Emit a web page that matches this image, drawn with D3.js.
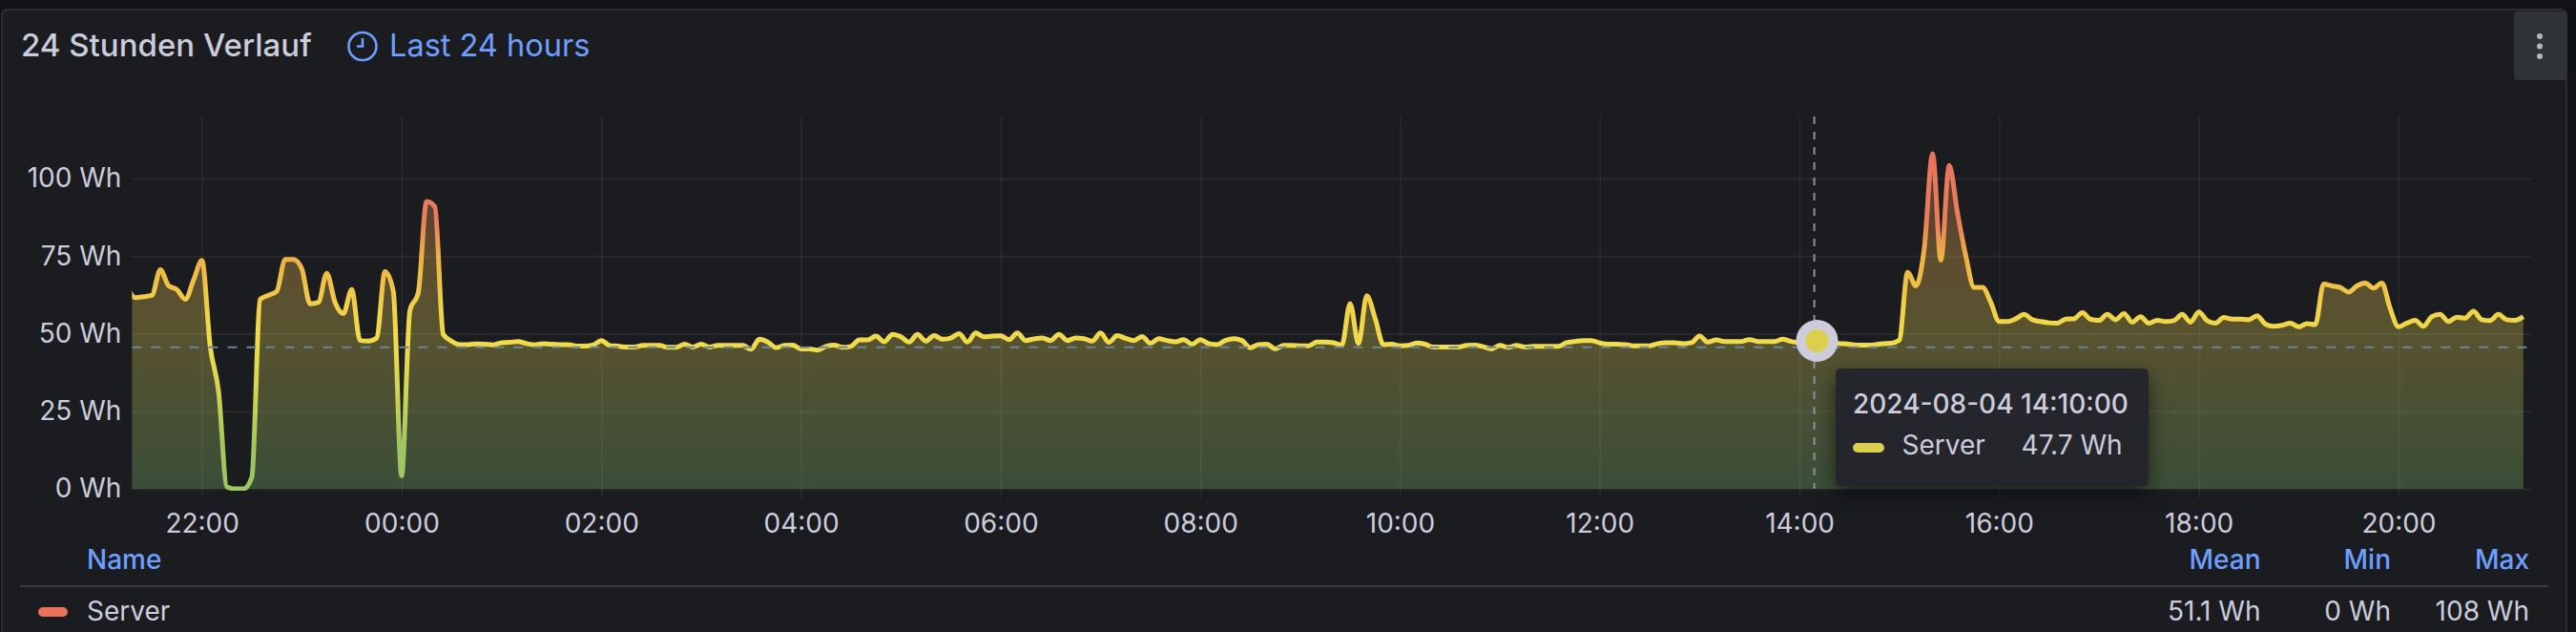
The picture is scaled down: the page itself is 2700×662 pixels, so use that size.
<!DOCTYPE html>
<html><head><meta charset="utf-8">
<script src="https://cdn.jsdelivr.net/npm/d3@7/dist/d3.min.js"></script>
<style>
html,body{margin:0;padding:0;background:#111217;overflow:hidden}
svg{display:block}
text{font-family:Inter,"Noto Sans",sans-serif}
</style></head><body>
<svg id="c" width="2700" height="662"></svg>
<script>
const title = "24 Stunden Verlauf";
const timeRangeLabel = "Last 24 hours";
const seriesName = "Server";
const tooltipTime = "2024-08-04 14:10:00";
const tooltipValue = "47.7 Wh";
const hoverIndex = 203;
const thresholdValue = 45.6;
const legendHeaders = ["Mean", "Min", "Max"];
const legendValues = ["51.1 Wh", "0 Wh", "108 Wh"];
const yTicks = [0, 25, 50, 75, 100];
const xTickHours = [22,24,26,28,30,32,34,36,38,40,42,44];
const stepMinutes = 5;
// Wh, one value per 5 minutes, from 2024-08-03 21:15 to 2024-08-04 21:15
const values = [
65.2,61.6,61.9,62.4,70.6,65.4,64.2,61.1,67.3,73.6,45.7,31.4,0.6,0,0,3.7,61.1,62.4,63.7,73.9,
73.9,70.9,59.6,60.1,69.5,60.1,56.5,64.2,47.8,47.6,48.6,70,63.7,4.2,57.5,63.2,92.6,90.9,49.8,47.6,
46.5,46.5,46.7,46.6,46.4,47.1,47.2,47.5,46.8,46.4,46.8,46.6,46.5,46.5,46,46,46.3,47.8,46.2,46,
45.7,45.7,46.2,46.2,46.2,45.6,45.6,46.6,45.7,46.6,45.7,46.2,46.2,46.2,46.2,45,48.2,47.3,45.5,46.2,
46.3,45.1,45.1,44.7,45.9,46.3,45.6,45.9,48,48,49.2,47.4,49.8,49,47.3,49.8,47.6,49.4,48.2,48.6,
50,47.3,50.2,49,49.2,49.3,48.1,50.2,47.8,48.3,48.6,47.8,49.8,47.8,48.6,48.4,47.6,50.2,47.2,49.4,
48.5,47.8,49.1,46.9,48.4,47.8,47.4,48.1,46.6,48.1,46.8,46.5,47.8,48.4,47.8,45.5,46.5,46.6,45.1,46.2,
46.2,46.1,46.1,47.3,47.3,47.1,46.3,59.7,46.8,62.2,55,46.5,46.6,46.1,46.2,47,46.6,45.7,45.7,45.7,
45.7,46.2,46.3,45.8,45.1,46.2,45.6,46.2,45.7,45.9,45.9,45.9,45.9,47.1,47.5,47.8,47.8,47,46.6,46.6,
46.5,46.1,46.1,46.1,46.8,47.1,47.1,46.8,47.1,49.2,47.3,48,47.5,47.5,47.5,48.1,47.5,47.5,47.5,48.2,
47.5,47.1,47.5,47.7,47.5,47,46.8,46.6,46.3,46.3,46.4,46.8,46.9,47.9,69.8,65.4,77.5,108,73.7,104.2,
88.8,75,64.9,64.9,60.1,53.9,53.9,54.8,56.2,54.5,53.9,53.5,53.4,54.7,54.8,56.8,54.6,54.3,56.2,54.5,
56.5,53.7,55.5,53.4,54.3,53.9,54.2,56.2,53.7,57,54.2,53.4,55.2,54.7,54.7,54.5,55.8,53.1,52.4,52.7,
53.4,52.2,53.2,52.9,66,65.4,64.9,63.4,65.4,66.3,64.7,66.3,58.1,52.2,53.4,54.3,52.4,55.5,56.2,53.9,
55.3,55,57.2,54.5,54.2,56.2,54.5,54.3,55.5
];
const lineStops = [[0,"#9cc560"],[14,"#a0c65f"],[30,"#cdd352"],[46,"#f0dc4a"],[58,"#f0d248"],[75,"#edb044"],[86,"#e9805a"],[108,"#e8725a"]];
const fillStops = [[0,"#3b4e38"],[25,"#495034"],[50,"#58532f"],[75,"#5e4d30"],[90,"#5c4031"],[108,"#5e3a30"]];

const textColor = "#ccccdc", blue = "#6e9fff", gridColor = "rgba(255,255,255,0.06)";
const labelSize = 28;
const svg = d3.select("#c");
const start = new Date(2024, 7, 3, 21, 15);
const data = values.map((v, i) => ({t: d3.timeMinute.offset(start, i * stepMinutes), v}));
const left = new Date(2024, 7, 3, 21, 18), right = new Date(2024, 7, 4, 21, 20);
const x = d3.scaleTime().domain([left, right]).range([138.4, 2653.5]);
const y = d3.scaleLinear().domain([0, 100]).range([512, 187]);
const xTicks = xTickHours.map(h => new Date(2024, 7, 3, h, 0));

svg.append("rect").attr("x",2).attr("y",10).attr("width",2688).attr("height",720).attr("rx",6)
  .attr("fill","#1a1c20").attr("stroke","#2c2e33").attr("stroke-width",2);
svg.append("rect").attr("x",2635).attr("y",12).attr("width",55).attr("height",72).attr("rx",4).attr("fill","#2f3237");
svg.selectAll(".dot").data([38,48.5,59]).join("circle").attr("cx",2662).attr("cy",d=>d).attr("r",3).attr("fill","#b4b6c2");

svg.append("text").attr("x",22).attr("y",59).attr("font-size",33).attr("font-weight",500).attr("fill",textColor).text(title);
svg.append("circle").attr("cx",380).attr("cy",48.5).attr("r",14.5).attr("fill","none").attr("stroke",blue).attr("stroke-width",2.6);
svg.append("path").attr("d","M380 40V48.5H374").attr("fill","none").attr("stroke",blue).attr("stroke-width",2.6);
svg.append("text").attr("x",408).attr("y",59).attr("font-size",32.5).attr("fill",blue).text(timeRangeLabel);

const defs = svg.append("defs");
function grad(id, stops){
  const g = defs.append("linearGradient").attr("id",id).attr("gradientUnits","userSpaceOnUse")
    .attr("x1",0).attr("x2",0).attr("y1",y(0)).attr("y2",y(108));
  stops.forEach(s=>g.append("stop").attr("offset",s[0]/108).attr("stop-color",s[1]));
}
grad("lineGrad", lineStops); grad("fillGrad", fillStops);
defs.append("clipPath").attr("id","plot").append("rect").attr("x",x(left)).attr("y",120).attr("width",x(right)-x(left)).attr("height",394);

const curve = d3.curveMonotoneX;
const plot = svg.append("g").attr("clip-path","url(#plot)");
plot.append("path").datum(data).attr("fill","url(#fillGrad)")
  .attr("d", d3.area().x(d=>x(d.t)).y0(y(0)).y1(d=>y(d.v)).curve(curve));

// grid through axes
const gridY = svg.append("g").attr("transform",`translate(${x(left)},0)`)
  .call(d3.axisLeft(y).tickValues(yTicks).tickSize(-(x(right)-x(left))).tickFormat(""));
gridY.select(".domain").remove();
gridY.selectAll("line").attr("stroke",gridColor).attr("stroke-width",2);
const gridX = svg.append("g").attr("transform","translate(0,522)")
  .call(d3.axisBottom(x).tickValues(xTicks).tickSize(-400).tickFormat(""));
gridX.select(".domain").remove();
gridX.selectAll("line").attr("stroke",gridColor).attr("stroke-width",1.6);

plot.append("path").datum(data).attr("fill","none").attr("stroke","url(#lineGrad)").attr("stroke-width",5)
  .attr("stroke-linejoin","round").attr("d", d3.line().x(d=>x(d.t)).y(d=>y(d.v)).curve(curve));

// threshold
svg.append("line").attr("x1",x(left)).attr("x2",x(right)).attr("y1",y(thresholdValue)).attr("y2",y(thresholdValue))
  .attr("stroke","#6f8299").attr("stroke-width",2).attr("stroke-dasharray","10 10");

// axes labels
const ax = svg.append("g").attr("transform",`translate(${x(left)-11},0)`)
  .call(d3.axisLeft(y).tickValues(yTicks).tickSize(0).tickPadding(0).tickFormat(d=>d+" Wh"));
ax.select(".domain").remove();
ax.selectAll("text").attr("font-size",labelSize).attr("font-family",'Inter,"Noto Sans",sans-serif').attr("fill",textColor);
const bx = svg.append("g").attr("transform","translate(0,538)")
  .call(d3.axisBottom(x).tickValues(xTicks).tickSize(0).tickPadding(0).tickFormat(d3.timeFormat("%H:%M")));
bx.select(".domain").remove();
bx.selectAll("text").attr("font-size",labelSize).attr("font-family",'Inter,"Noto Sans",sans-serif').attr("fill",textColor);

// legend
svg.append("text").attr("x",91).attr("y",596).attr("font-size",labelSize).attr("font-weight",500).attr("fill",blue).text("Name");
const headerX = [2369.5, 2506, 2651];
svg.selectAll(".lh").data(legendHeaders).join("text").attr("x",(d,i)=>headerX[i]).attr("y",596)
  .attr("text-anchor","end").attr("font-size",labelSize).attr("font-weight",500).attr("fill",blue).text(d=>d);
svg.append("line").attr("x1",21).attr("x2",2671).attr("y1",614).attr("y2",614).attr("stroke","#3a3c42").attr("stroke-width",2);
svg.append("rect").attr("x",40).attr("y",636).attr("width",31).attr("height",10).attr("rx",5).attr("fill","#e8735a");
svg.append("text").attr("x",91).attr("y",650).attr("font-size",labelSize).attr("fill",textColor).text(seriesName);
svg.selectAll(".lv").data(legendValues).join("text").attr("x",(d,i)=>headerX[i]).attr("y",650)
  .attr("text-anchor","end").attr("font-size",labelSize).attr("fill",textColor).text(d=>d);

// hover
const hover = data[hoverIndex];
svg.append("line").attr("x1",1901.6).attr("x2",1901.6).attr("y1",122).attr("y2",512)
  .attr("stroke","#8b92a5").attr("stroke-width",2).attr("stroke-dasharray","8 8");
svg.append("circle").attr("cx",x(hover.t)+1).attr("cy",y(hover.v)).attr("r",22).attr("fill","#ccccdc");
svg.append("circle").attr("cx",x(hover.t)+1).attr("cy",y(hover.v)).attr("r",12).attr("fill","#dccf4e");

// tooltip
svg.append("rect").attr("x",1924).attr("y",386).attr("width",328).attr("height",123).attr("rx",5).attr("fill","#24262b")
  .style("filter","drop-shadow(0 8px 10px rgba(0,0,0,0.55))");
svg.append("text").attr("x",1942).attr("y",433).attr("font-size",labelSize).attr("font-weight",500).attr("fill",textColor).text(tooltipTime);
svg.append("rect").attr("x",1942).attr("y",464).attr("width",33).attr("height",10).attr("rx",5).attr("fill","#dccf4e");
svg.append("text").attr("x",1993.5).attr("y",476).attr("font-size",labelSize).attr("fill",textColor).text(seriesName);
svg.append("text").attr("x",2118.6).attr("y",476).attr("font-size",labelSize).attr("fill",textColor).text(tooltipValue);
</script>
</body></html>
